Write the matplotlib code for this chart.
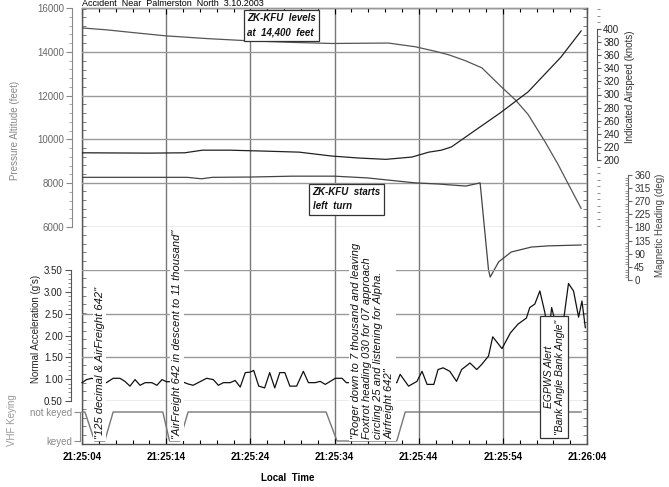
import matplotlib
matplotlib.use('Agg')
import matplotlib.pyplot as plt
from matplotlib.ticker import MultipleLocator, FormatStrFormatter

plt.rcParams['font.family'] = ['Liberation Sans', 'DejaVu Sans']

W, H = 669, 487

# Zeit in Sekunden nach 21:25:04
tick_sec = [0, 10, 20, 30, 40, 50, 60]
tick_labels = ['21:25:04', '21:25:14', '21:25:24', '21:25:34', '21:25:44', '21:25:54', '21:26:04']

# Pressure altitude (ft)
alt_t = [0, 3, 6, 9.9, 15, 19.9, 25, 29.7, 36.4, 39.6, 42, 43.6, 45.5, 47.5, 49.8, 51.5, 53.0, 55.0, 56.5, 58.0, 59.3]
alt_ft = [15090, 15000, 14880, 14730, 14600, 14500, 14430, 14380, 14400, 14230, 14020, 13860, 13600, 13270, 12410, 11800, 11140, 9900, 8900, 7800, 6850]

# Indicated airspeed (kt)
ias_t = [0, 8, 12.2, 14.3, 17.5, 21.9, 25.8, 29.7, 32.9, 36.1, 39.2, 41.2, 42.7, 43.9, 45.9, 49.7, 53.0, 56.9, 59.3]
ias_kt = [211, 210.5, 211, 215, 215, 213.5, 212, 206, 203, 201, 204.5, 212, 215, 220, 238, 272, 304, 357, 397]

# Magnetic heading (deg)
hdg_t = [0, 10, 12.5, 14.2, 15.5, 20, 25, 30, 33.9, 39.6, 42.4, 45.6, 47.3, 48.3, 48.5, 49.5, 51, 53.4, 55.4, 59.3]
hdg_deg = [352, 352, 352, 347, 352, 353, 356, 356, 350, 333, 329, 322, 333, 34, 10, 62, 96, 113, 117, 120]

# Normal acceleration (g)
acc_t = [0, 0.55, 1.15, 2.9, 3.7, 4.5, 5.1, 5.7, 6.3, 6.9, 7.5, 8.3, 8.9, 9.5, 10.05,
         11.8, 12.6, 13.2, 14.0, 14.8, 15.6, 16.2, 16.8, 17.6, 18.2, 18.8, 19.4, 19.95, 20.4,
         21.0, 21.7, 22.3, 22.9, 23.5, 24.1, 24.7, 25.5, 26.3, 26.9, 27.7, 28.3, 28.9, 29.5,
         30.1, 30.9, 31.4, 37.4, 37.8, 38.8, 39.8, 40.4, 41.0, 41.8, 42.3, 42.9, 43.7, 44.5,
         45.1, 46.1, 46.9, 47.5, 48.3, 48.8, 49.9, 50.9, 51.8, 52.8, 53.2, 53.8, 54.4, 55.0,
         55.4, 55.8, 56.2, 56.6, 57.2, 57.8, 58.4, 59.0, 59.4, 59.8]
acc_g = [0.92, 0.99, 1.02, 0.92, 1.02, 1.02, 0.95, 0.84, 0.99, 0.86, 0.92, 0.92, 0.86, 0.99, 0.94,
         0.95, 0.89, 0.86, 0.94, 1.02, 0.99, 0.86, 0.92, 0.92, 0.97, 0.82, 1.15, 1.16, 1.20,
         0.84, 0.80, 1.15, 0.80, 1.15, 1.15, 0.84, 0.84, 1.18, 0.92, 0.92, 0.95, 0.88, 0.95,
         1.02, 1.02, 0.92, 0.92, 1.11, 0.84, 0.95, 1.18, 0.88, 0.88, 1.22, 1.26, 1.18, 0.95,
         1.22, 1.37, 1.22, 1.34, 1.53, 1.97, 1.70, 2.06, 2.26, 2.40, 2.64, 2.72, 3.02, 2.52,
         1.95, 2.64, 2.33, 1.95, 2.33, 3.19, 3.02, 2.42, 2.79, 2.18]

# VHF keying (1 = not keyed, 0 = keyed)
vhf_t = [0, 0.35, 1.5, 2.7, 3.7, 9.6, 10.4, 11.6, 12.6, 29.0, 30.3, 37.4, 38.4, 59.3]
vhf_key = [1, 1, 0, 0, 1, 1, 0, 0, 1, 1, 0, 0, 1, 1]


def box(x0, y0, x1, y1):
    # Pixelrechteck (oben links Ursprung) -> Figure-Koordinaten
    return [x0 / W, 1 - y1 / H, (x1 - x0) / W, (y1 - y0) / H]


def pt(px):
    return px * 0.72


def clean(a, keep):
    for s in ['top', 'bottom', 'left', 'right']:
        a.spines[s].set_visible(s == keep)
    a.patch.set_visible(False)
    a.set_xlim(0, 60)
    a.set_xticks([])


fig = plt.figure(figsize=(W / 100, H / 100), dpi=100)

# Rahmen mit Zeitachse
ax = fig.add_axes(box(82, 8, 587, 444))
ax.set_xlim(0, 60)
ax.set_ylim(444, 8)
ax.set_xticks(tick_sec)
ax.set_xticklabels(tick_labels, fontsize=7, fontweight='bold')
ax.xaxis.set_minor_locator(MultipleLocator(2))
ax.tick_params(axis='x', which='both', direction='in', top=True, length=4, pad=6, width=0.8)
ax.tick_params(axis='x', which='minor', length=3)
ax.set_yticks([])
ax.yaxis.set_minor_locator(MultipleLocator(8.7))
ax.tick_params(axis='y', which='minor', direction='in', left=True, right=True, length=3, width=0.6, colors='#666')
ax.grid(axis='x', color='#777', lw=1)
for s in ax.spines.values():
    s.set_color('#555')
    s.set_linewidth(1)

# Druckhoehe
ax_alt = fig.add_axes(box(82, 8, 587, 227))
clean(ax_alt, 'left')
ax_alt.set_ylim(6000, 16000)
ax_alt.spines['left'].set_position(('outward', pt(10)))
ax_alt.spines['left'].set_color('#888')
ax_alt.set_yticks(range(6000, 16001, 2000))
ax_alt.yaxis.set_minor_locator(MultipleLocator(400))
ax_alt.tick_params(axis='y', which='major', length=4, pad=1.5, labelsize=7, colors='#888', labelcolor='#666')
ax_alt.tick_params(axis='y', which='minor', length=2, colors='#999')
ax_alt.grid(axis='y', color='#999', lw=1)
ax_alt.plot(alt_t, alt_ft, color='#555', lw=0.9)

# Fahrt
ax_ias = ax_alt.twinx()
clean(ax_ias, 'right')
ppk = (160 - 29) / 200
ax_ias.set_ylim(200 - (227 - 160) / ppk, 400 + (29 - 8) / ppk)
ax_ias.spines['right'].set_position(('outward', pt(10)))
ax_ias.spines['right'].set_bounds(200, 400)
ax_ias.spines['right'].set_color('#555')
ax_ias.set_yticks(range(200, 401, 20))
ax_ias.yaxis.set_minor_locator(MultipleLocator(10))
ax_ias.tick_params(axis='y', which='major', length=3, pad=1.5, labelsize=7, colors='#555', labelcolor='#222')
ax_ias.tick_params(axis='y', which='minor', length=2, colors='#777')
ax_ias.plot(ias_t, ias_kt, color='#222', lw=0.9)

# Kurs
ax_hdg = fig.add_axes(box(82, 175, 587, 280))
clean(ax_hdg, 'right')
ax_hdg.set_ylim(0, 360)
ax_hdg.yaxis.tick_right()
ax_hdg.spines['right'].set_position(('outward', pt(41)))
ax_hdg.spines['right'].set_color('#666')
ax_hdg.set_yticks(range(0, 361, 45))
ax_hdg.yaxis.set_minor_locator(MultipleLocator(9))
ax_hdg.tick_params(axis='y', which='major', length=3, pad=1.5, labelsize=7, colors='#666', labelcolor='#333')
ax_hdg.tick_params(axis='y', which='minor', length=2, direction='in', colors='#888')
ax_hdg.plot(hdg_t, hdg_deg, color='#444', lw=0.9)

# Normalbeschleunigung
ax_acc = fig.add_axes(box(82, 270, 587, 401))
clean(ax_acc, 'left')
ax_acc.set_ylim(0.5, 3.5)
ax_acc.spines['left'].set_position(('outward', pt(11.5)))
ax_acc.spines['left'].set_color('#555')
ax_acc.set_yticks([0.5, 1.0, 1.5, 2.0, 2.5, 3.0, 3.5])
ax_acc.yaxis.set_major_formatter(FormatStrFormatter('%.2f'))
ax_acc.yaxis.set_minor_locator(MultipleLocator(0.1))
ax_acc.tick_params(axis='y', which='major', length=4, pad=1.5, labelsize=7, colors='#555', labelcolor='#222')
ax_acc.tick_params(axis='y', which='minor', length=2, colors='#777')
for g in [0.5, 1.5, 2.5, 3.5]:
    ax_acc.axhline(g, color='#999', lw=1)
ax_acc.plot(acc_t, acc_g, color='#111', lw=0.9, clip_on=False)

# VHF Keying
ax_vhf = fig.add_axes(box(82, 412, 587, 441))
clean(ax_vhf, 'left')
ax_vhf.set_ylim(0, 1)
ax_vhf.spines['left'].set_position(('outward', pt(2)))
ax_vhf.spines['left'].set_color('#888')
ax_vhf.set_yticks([0, 1])
ax_vhf.set_yticklabels(['keyed', 'not keyed'])
ax_vhf.tick_params(axis='y', length=4, pad=1.5, labelsize=7, colors='#888', labelcolor='#888')
ax_vhf.plot(vhf_t, vhf_key, color='#777', lw=1.0, clip_on=False)

# Achsentitel
fig.text(15 / W, 1 - 130 / H, 'Pressure Altitude (feet)', rotation=90, fontsize=7, color='#888', ha='center', va='center')
fig.text(36 / W, 1 - 329 / H, "Normal Acceleration (g's)", rotation=90, fontsize=7, color='#222', ha='center', va='center')
fig.text(12 / W, 1 - 420 / H, 'VHF Keying', rotation=90, fontsize=7, color='#999', ha='center', va='center')
fig.text(630 / W, 1 - 87 / H, 'Indicated Airspeed (knots)', rotation=90, fontsize=7, color='#333', ha='center', va='center')
fig.text(660 / W, 1 - 225 / H, 'Magnetic Heading (deg)', rotation=90, fontsize=7, color='#444', ha='center', va='center')
fig.text(288 / W, 1 - 478 / H, 'Local  Time', fontsize=7, fontweight='bold', ha='center', va='center')
fig.text(82 / W, 1 - 6.5 / H, 'Accident  Near  Palmerston  North  3.10.2003', fontsize=6.5, ha='left', va='baseline')

# Notizen oben drauf
ax_n = fig.add_axes(box(82, 8, 587, 444))
ax_n.set_xlim(0, 60)
ax_n.set_ylim(444, 8)
ax_n.axis('off')
note = dict(fontsize=7, style='italic', fontweight='bold', color='#111')
ax_n.text(19.6, 25.5, 'ZK-KFU  levels\nat  14,400  feet', ha='left', va='center', linespacing=1.5,
          bbox=dict(boxstyle='square,pad=0.35', fc='white', ec='#333', lw=0.9), **note)
ax_n.text(27.4, 199.5, 'ZK-KFU  starts\nleft  turn', ha='left', va='center', linespacing=1.5,
          bbox=dict(boxstyle='square,pad=0.35', fc='white', ec='#333', lw=0.9), **note)

rot = dict(fontsize=8, style='italic', color='#111', rotation=90, ha='center', va='bottom',
           bbox=dict(boxstyle='square,pad=0.15', fc='white', ec='none'))
ax_n.text(2.1, 439, '"125 decimal & AirFreight 642"', **rot)
ax_n.text(11.3, 439, '"AirFreight 642 in descent to 11 thousand"', **rot)
ax_n.text(34.5, 439, '"Roger down to 7 thousand and leaving\nFoxtrot heading 030 for 07 approach\n'
          'circling 25 and listening for Alpha.\nAirfreight 642"', multialignment='left', linespacing=1.15, **rot)
ax_n.text(56.1, 377, 'EGPWS Alert\n"Bank Angle Bank Angle"', fontsize=7.5, style='italic', color='#111',
          rotation=90, ha='center', va='center', multialignment='center', linespacing=1.15,
          bbox=dict(boxstyle='square,pad=0.3', fc='white', ec='#333', lw=0.9))

fig.savefig('out.png', dpi=100)
